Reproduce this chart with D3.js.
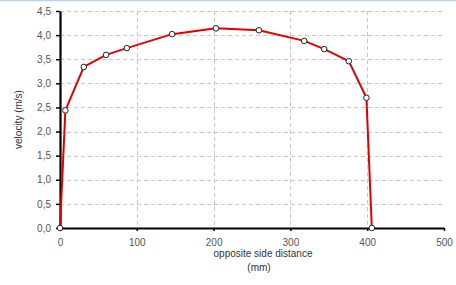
<!DOCTYPE html>
<html>
<head>
<meta charset="utf-8">
<script src="https://cdn.jsdelivr.net/npm/d3@7"></script>
<style>
  html, body { margin: 0; padding: 0; background: #fff; }
  svg { display: block; font-family: "Liberation Sans", Arial, sans-serif; }
</style>
</head>
<body>
<svg id="chart" width="456" height="285"></svg>
<script>
// distance across the section (mm) and measured velocity (m/s)
const distance = [0, 7, 31, 60, 87, 146, 203, 259, 318, 344, 376, 399, 406];
const velocity = [0, 2.44, 3.34, 3.59, 3.73, 4.02, 4.14, 4.10, 3.88, 3.71, 3.46, 2.70, 0];
const xTicks = [0, 100, 200, 300, 400, 500];
const yTicks = [0, 0.5, 1, 1.5, 2, 2.5, 3, 3.5, 4, 4.5];

const W = 456, H = 285;
const m = { l: 60, r: 12, t: 11, b: 57 };

const svg = d3.select("#chart");
const fmt = d => d3.format(".1f")(d).replace(".", ",");

// thin frame line on top
svg.append("line")
  .attr("x1", 0).attr("x2", W).attr("y1", 0.5).attr("y2", 0.5)
  .attr("stroke", "#b9d3ea").attr("stroke-width", 1.5);

const x = d3.scaleLinear().domain([0, 500]).range([m.l, W - m.r]);
const y = d3.scaleLinear().domain([0, 4.5]).range([H - m.b, m.t]);

// grid
const grid = svg.append("g")
  .attr("stroke", "#c8c8c8")
  .attr("stroke-dasharray", "4 3")
  .attr("stroke-width", 1);
grid.selectAll("line.h")
  .data(yTicks.filter(d => d > 0))
  .join("line")
  .attr("x1", m.l).attr("x2", W - m.r)
  .attr("y1", d => Math.round(y(d)) + 0.5)
  .attr("y2", d => Math.round(y(d)) + 0.5);
grid.selectAll("line.v")
  .data(xTicks.filter(d => d > 0 && d < 500))
  .join("line")
  .attr("x1", d => Math.round(x(d)) + 0.5)
  .attr("x2", d => Math.round(x(d)) + 0.5)
  .attr("y1", m.t).attr("y2", H - m.b);

// axes
const xAxis = svg.append("g")
  .attr("transform", `translate(0,${H - m.b})`)
  .call(d3.axisBottom(x).tickValues(xTicks).tickSize(3).tickPadding(8).tickSizeOuter(0));
const yAxis = svg.append("g")
  .attr("transform", `translate(${m.l},0)`)
  .call(d3.axisLeft(y).tickValues(yTicks).tickFormat(fmt).tickSize(4).tickPadding(5).tickSizeOuter(0));

[xAxis, yAxis].forEach(g => {
  g.select(".domain").attr("stroke", "#000").attr("stroke-width", 2.2);
  g.selectAll(".tick line").attr("stroke", "#000").attr("stroke-width", 1.5);
  g.selectAll(".tick text")
    .attr("fill", "#555")
    .attr("font-size", 10)
    .attr("font-family", "Liberation Sans, Arial, sans-serif");
});

// axis titles
svg.append("text")
  .attr("transform", `translate(22,${(m.t + H - m.b) / 2}) rotate(-90)`)
  .attr("text-anchor", "middle")
  .attr("font-size", 10)
  .attr("fill", "#333")
  .text("velocity (m/s)");
svg.append("text")
  .attr("x", 263).attr("y", 257)
  .attr("text-anchor", "middle")
  .attr("font-size", 10)
  .attr("fill", "#333")
  .text("opposite side distance");
svg.append("text")
  .attr("x", 259).attr("y", 271)
  .attr("text-anchor", "middle")
  .attr("font-size", 10)
  .attr("fill", "#333")
  .text("(mm)");

// profile line
const pts = distance.map((d, i) => ({ d, v: velocity[i] }));
svg.append("path")
  .datum(pts)
  .attr("fill", "none")
  .attr("stroke", "#e00000")
  .attr("stroke-width", 2)
  .attr("stroke-linejoin", "round")
  .attr("d", d3.line().x(p => x(p.d)).y(p => y(p.v)));

svg.selectAll("circle.pt")
  .data(pts)
  .join("circle")
  .attr("cx", p => x(p.d))
  .attr("cy", p => y(p.v))
  .attr("r", 2.8)
  .attr("fill", "#fff")
  .attr("stroke", "#222")
  .attr("stroke-width", 1);
</script>
</body>
</html>
